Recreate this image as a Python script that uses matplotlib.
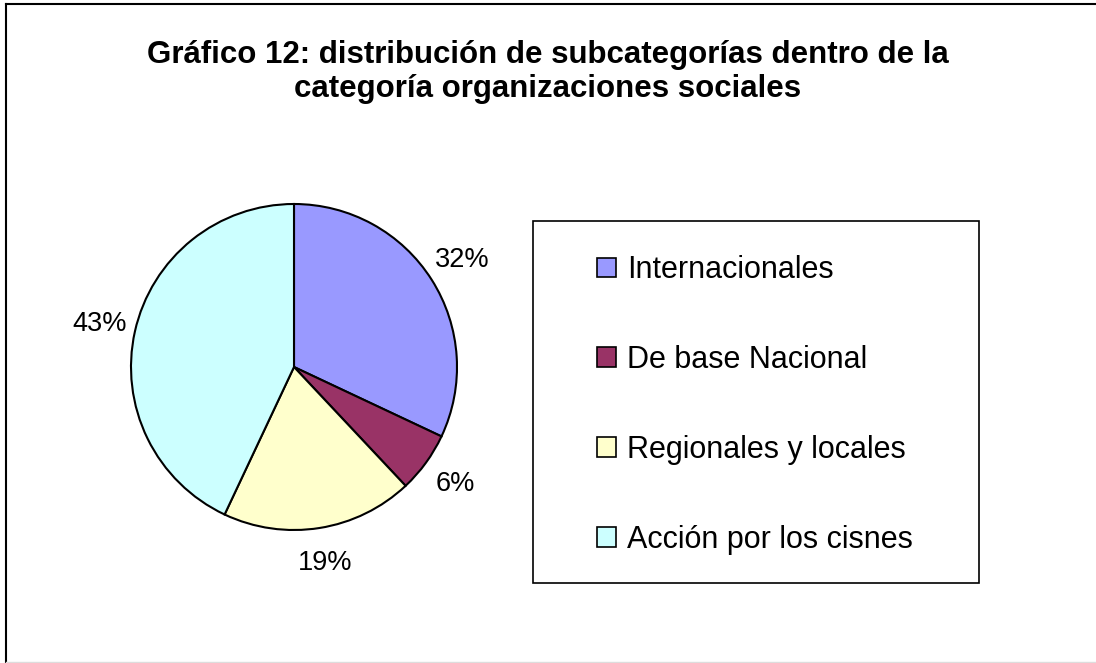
import matplotlib

matplotlib.use('Agg')
import matplotlib.pyplot as plt
from matplotlib.lines import Line2D
from matplotlib.patches import Rectangle

plt.rcParams['font.family'] = ['Liberation Sans', 'DejaVu Sans']

# datos
categorias = ['Internacionales', 'De base Nacional', 'Regionales y locales',
              'Acción por los cisnes']
porcentajes = [32, 6, 19, 43]
colores = ['#9999FF', '#993366', '#FFFFCC', '#CCFFFF']
titulo = ('Gráfico 12: distribución de subcategorías dentro de la\n'
          'categoría organizaciones sociales')

W, H = 1096, 663
fig = plt.figure(figsize=(W / 100, H / 100), dpi=100)

# marco exterior
fig.add_artist(Line2D([6 / W, 6 / W], [0, 1 - 4 / H], color='black', lw=1.5))
fig.add_artist(Line2D([6 / W, 1], [1 - 4 / H, 1 - 4 / H], color='black', lw=1.5))
fig.add_artist(Line2D([6 / W, 1], [1 / H, 1 / H], color='#dddddd', lw=1))

fig.text(548 / W, 1 - 72 / H, titulo, ha='center', va='center',
         fontsize=22.5, fontweight='bold', linespacing=1.16)

# pastel: centro (294, 367), radio 163 px
cx, cy, r = 294, 367, 163
ax = fig.add_axes([(cx - r) / W, (H - cy - r) / H, 2 * r / W, 2 * r / H])
wedges, _, autotexts = ax.pie(
    porcentajes,
    colors=colores,
    startangle=90,
    counterclock=False,
    autopct='%1.0f%%',
    pctdistance=1.22,
    wedgeprops={'edgecolor': 'black', 'linewidth': 1.5},
    textprops={'fontsize': 19.5},
)
ax.set_xlim(-1, 1)
ax.set_ylim(-1, 1)

# leyenda
fig.add_artist(Rectangle((533 / W, 1 - 583 / H), (979 - 533) / W, (583 - 221) / H,
                         transform=fig.transFigure, facecolor='none',
                         edgecolor='black', lw=1.2))
leg = fig.legend(
    wedges, categorias,
    loc='center left',
    bbox_to_anchor=(597 / W, 1 - 405 / H),
    frameon=False,
    fontsize=22,
    borderpad=0,
    borderaxespad=0,
    handlelength=0.62,
    handleheight=0.62,
    handletextpad=0.36,
    labelspacing=1.96,
)
for h in leg.legend_handles:
    h.set_linewidth(1.2)

fig.savefig('out.png', dpi=100)
